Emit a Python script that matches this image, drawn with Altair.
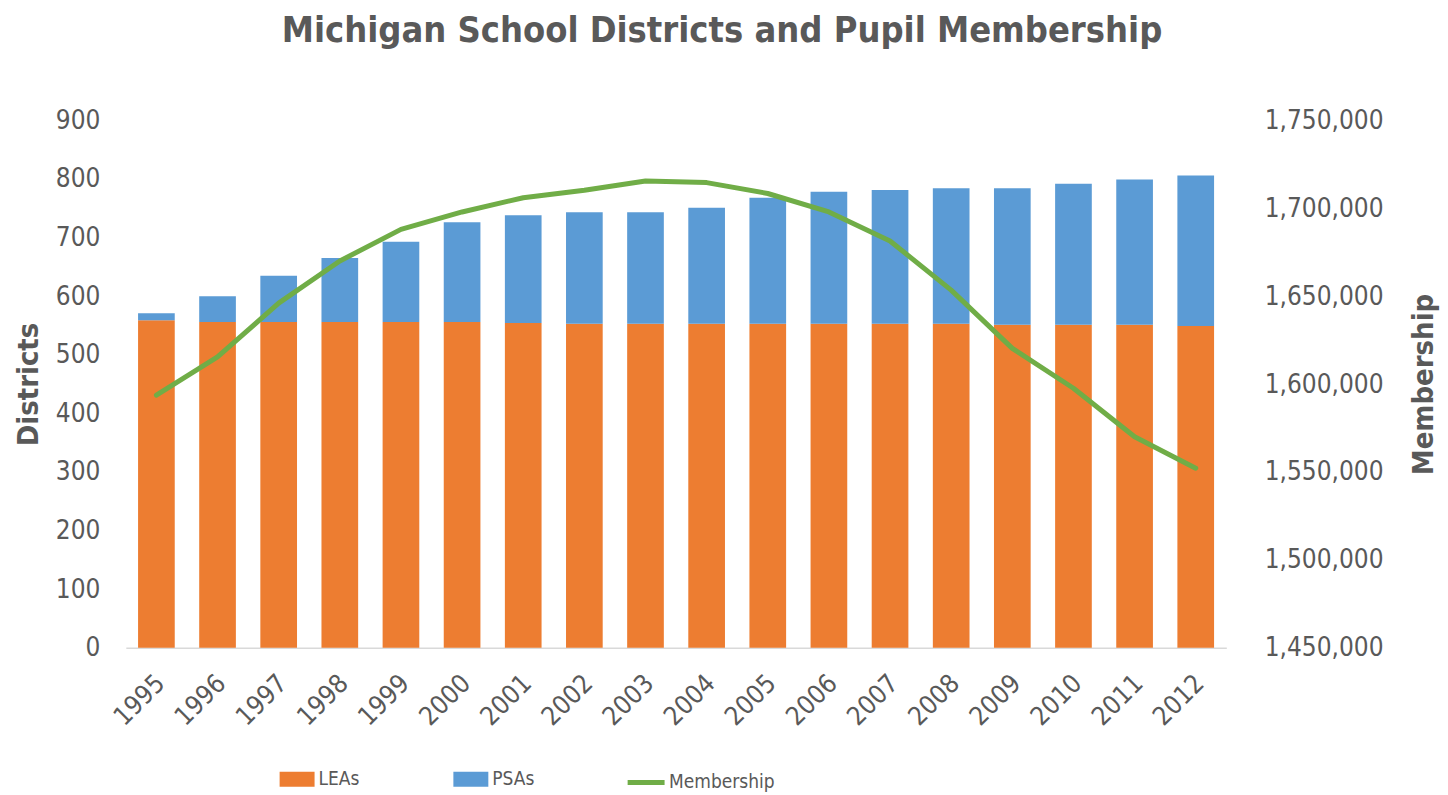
import altair as alt
import pandas as pd

# ---- data ----
years = ["1995", "1996", "1997", "1998", "1999", "2000", "2001", "2002", "2003",
         "2004", "2005", "2006", "2007", "2008", "2009", "2010", "2011", "2012"]
leas = [559, 556, 556, 556, 556, 556, 554, 553, 553, 553, 553, 553, 553, 553, 551, 551, 551, 549]
psas = [12, 44, 79, 109, 137, 170, 184, 190, 190, 198, 215, 225, 228, 231, 233, 241, 248, 257]
membership = [1593700, 1615500, 1646000, 1670000, 1688000, 1697900, 1706000, 1710200, 1715500,
              1714600, 1708400, 1697900, 1681400, 1653400, 1620300, 1597600, 1570000, 1552100]
district_ticks = [0, 100, 200, 300, 400, 500, 600, 700, 800, 900]
member_ticks = [1450000, 1500000, 1550000, 1600000, 1650000, 1700000, 1750000]

ORANGE = "#ED7D31"
BLUE = "#5B9BD5"
GREEN = "#70AD47"
TEXT = "#595959"
FONT = "DejaVu Sans Condensed"

rows = []
for y, l, p in zip(years, leas, psas):
    rows.append({"Year": y, "Type": "LEAs", "Districts": l, "ord": 0})
    rows.append({"Year": y, "Type": "PSAs", "Districts": p, "ord": 1})
bar_df = pd.DataFrame(rows)
line_df = pd.DataFrame({"Year": years, "Membership": membership, "Series": ["Membership"] * len(years)})

x = alt.X(
    "Year:O",
    sort=years,
    scale=alt.Scale(paddingInner=0.4, paddingOuter=0.2),
    axis=alt.Axis(
        title=None, labelAngle=-45, ticks=False, domainColor="#D9D9D9", domainWidth=1.5,
        labelFont=FONT, labelFontSize=26, labelColor=TEXT, labelPadding=22, labelOffset=-5,
    ),
)

bars = alt.Chart(bar_df).mark_bar().encode(
    x=x,
    y=alt.Y(
        "Districts:Q", stack="zero",
        scale=alt.Scale(domain=[0, 900], nice=False),
        axis=alt.Axis(
            orient="left", values=district_ticks, title="Districts", grid=False, domain=False,
            ticks=False, labelFont=FONT, labelFontSize=26, labelColor=TEXT, labelPadding=26,
            titleFont=FONT, titleFontSize=29, titleFontWeight="bold", titleColor=TEXT,
            titlePadding=12,
        ),
    ),
    color=alt.Color(
        "Type:N",
        scale=alt.Scale(domain=["LEAs", "PSAs"], range=[ORANGE, BLUE]),
        legend=alt.Legend(
            title=None, orient="none", legendX=154, legendY=642, direction="horizontal",
            symbolType="M-1,-0.43L1,-0.43L1,0.43L-1,0.43Z", symbolSize=1225,
            symbolStrokeWidth=0, labelFont=FONT, labelFontSize=19,
            labelColor=TEXT, columnPadding=92, gridAlign="all", padding=0, labelOffset=4,
        ),
    ),
    order=alt.Order("ord:Q"),
)

line = alt.Chart(line_df).mark_line(strokeWidth=5, strokeJoin="round", strokeCap="round").encode(
    x=x,
    y=alt.Y(
        "Membership:Q",
        scale=alt.Scale(domain=[1450000, 1750000], nice=False, zero=False),
        axis=alt.Axis(
            orient="right", values=member_ticks, format=",.0f", title="Membership", grid=False,
            domain=False, ticks=False, labelFont=FONT, labelFontSize=26, labelColor=TEXT,
            labelPadding=38, titleFont=FONT, titleFontSize=29, titleFontWeight="bold",
            titleColor=TEXT, titlePadding=55, titleAngle=270,
        ),
    ),
    stroke=alt.Stroke(
        "Series:N",
        scale=alt.Scale(domain=["Membership"], range=[GREEN]),
        legend=alt.Legend(
            title=None, orient="none", legendX=500, legendY=642, symbolType="stroke",
            symbolSize=1369, symbolStrokeWidth=5, labelFont=FONT,
            labelFontSize=19, labelColor=TEXT, padding=0, labelOffset=2,
        ),
    ),
)

chart = (
    alt.layer(bars, line)
    .resolve_scale(y="independent")
    .properties(
        width=1102,
        height=528,
        title=alt.TitleParams(
            "Michigan School Districts and Pupil Membership",
            font=FONT, fontSize=36, fontWeight="bold", color=TEXT,
            anchor="middle", offset=58, dx=46,
        ),
        autosize=alt.AutoSizeParams(type="none"),
        padding={"left": 118, "top": 112, "right": 214, "bottom": 145},
    )
    .configure_view(stroke=None)
)

chart.save("out.html", embed_options={"renderer": "svg", "actions": False})
